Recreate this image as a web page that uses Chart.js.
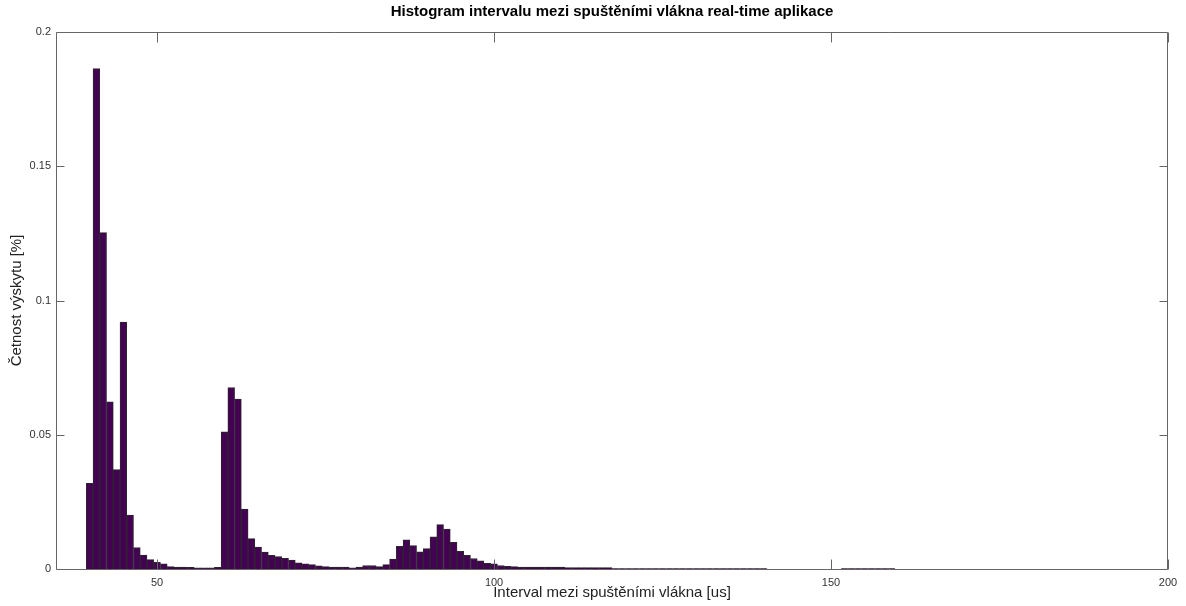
<!DOCTYPE html>
<html>
<head>
<meta charset="utf-8">
<script src="https://cdn.jsdelivr.net/npm/chart.js@4"></script>
<style>
  html, body { margin: 0; padding: 0; background: #fff; }
</style>
</head>
<body>
<canvas id="histChart" width="1186" height="606"></canvas>
<script>
// bin centres [us] and relative frequency
const binCenters = [
  40, 41, 42, 43, 44, 45, 46, 47, 48, 49,
  50, 51, 52, 53, 54, 55, 56, 57, 58, 59,
  60, 61, 62, 63, 64, 65, 66, 67, 68, 69,
  70, 71, 72, 73, 74, 75, 76, 77, 78, 79,
  80, 81, 82, 83, 84, 85, 86, 87, 88, 89,
  90, 91, 92, 93, 94, 95, 96, 97, 98, 99,
  100, 101, 102, 103, 104, 105, 106, 107, 108, 109,
  110, 111, 112, 113, 114, 115, 116, 117, 118, 119,
  120, 121, 122, 123, 124, 125, 126, 127, 128, 129,
  130, 131, 132, 133, 134, 135, 136, 137, 138, 139,
  140,
  152, 153, 154, 155, 156, 157, 158, 159
];
const frequency = [
  0.0319, 0.1864, 0.1253, 0.0623, 0.0370, 0.0920, 0.0201, 0.0080, 0.0052, 0.0035,
  0.0025, 0.0019, 0.0009, 0.0007, 0.0007, 0.0006, 0.0004, 0.0004, 0.0004, 0.0006,
  0.0511, 0.0676, 0.0633, 0.0223, 0.0113, 0.0082, 0.0063, 0.0051, 0.0046, 0.0040,
  0.0033, 0.0023, 0.0019, 0.0016, 0.0012, 0.0009, 0.0007, 0.0007, 0.0007, 0.0004,
  0.0007, 0.0013, 0.0013, 0.0009, 0.0016, 0.0037, 0.0084, 0.0109, 0.0087, 0.0064,
  0.0076, 0.0120, 0.0165, 0.0149, 0.0099, 0.0066, 0.0051, 0.0039, 0.0030, 0.0021,
  0.0019, 0.0013, 0.0010, 0.0009, 0.0007, 0.0007, 0.0007, 0.0007, 0.0007, 0.0007,
  0.0007, 0.0005, 0.0005, 0.0005, 0.0005, 0.0005, 0.0005, 0.0005, 0.0002, 0.0002,
  0.0002, 0.0002, 0.0002, 0.0002, 0.0002, 0.0002, 0.0002, 0.0002, 0.0002, 0.0002,
  0.0002, 0.0002, 0.0002, 0.0002, 0.0002, 0.0002, 0.0002, 0.0002, 0.0002, 0.0002,
  0.0002,
  0.0002, 0.0002, 0.0002, 0.0002, 0.0002, 0.0002, 0.0002, 0.0002
];
const xTicks = [50, 100, 150, 200];
const xTickLabels = ['50', '100', '150', '200'];
const yTicks = [0, 0.05, 0.1, 0.15, 0.2];
const yTickLabels = ['0', '0.05', '0.1', '0.15', '0.2'];
const chartTitle = 'Histogram intervalu mezi spuštěními vlákna real-time aplikace';

// octave-like box with inward tick marks on all four sides, title centred over the axes
const frameAndTicks = {
  id: 'frameAndTicks',
  afterDraw(chart) {
    const { ctx, chartArea: a, scales: { x, y } } = chart;
    const L = Math.round(a.left) + 0.5, R = Math.round(a.right) - 0.5;
    const T = Math.round(a.top) + 0.5, B = Math.round(a.bottom) + 0.5;
    ctx.save();
    ctx.strokeStyle = '#666';
    ctx.lineWidth = 1;
    ctx.beginPath();
    ctx.rect(L, T, R - L, B - T);
    xTicks.forEach(v => {
      const px = Math.round(x.getPixelForValue(v)) + 0.5;
      ctx.moveTo(px, B); ctx.lineTo(px, B - 10);
      ctx.moveTo(px, T); ctx.lineTo(px, T + 10);
    });
    yTicks.forEach(v => {
      const py = Math.round(y.getPixelForValue(v)) + 0.5;
      ctx.moveTo(L, py); ctx.lineTo(L + 8, py);
      ctx.moveTo(R, py); ctx.lineTo(R - 8, py);
    });
    ctx.stroke();

    ctx.fillStyle = '#000';
    ctx.font = 'bold 15px "Liberation Sans"';
    ctx.textAlign = 'center';
    ctx.textBaseline = 'middle';
    ctx.fillText(chartTitle, (a.left + a.right) / 2, 12);
    ctx.restore();
  }
};

new Chart(document.getElementById('histChart').getContext('2d'), {
  type: 'bar',
  data: {
    datasets: [{
      data: binCenters.map((c, i) => ({ x: c, y: frequency[i] })),
      backgroundColor: '#440154',
      borderColor: '#2a2a2a',
      borderWidth: 1,
      barPercentage: 1,
      categoryPercentage: 1
    }]
  },
  options: {
    responsive: false,
    animation: false,
    layout: { padding: { left: 0, right: 18, top: 32, bottom: 0 } },
    plugins: {
      legend: { display: false },
      tooltip: { enabled: false },
      title: { display: false }
    },
    scales: {
      x: {
        type: 'linear',
        min: 35,
        max: 200,
        offset: false,
        grid: { display: false, drawTicks: false, offset: false },
        border: { display: false },
        afterBuildTicks: s => { s.ticks = xTicks.map(v => ({ value: v })); },
        afterFit: s => { s.height = 37; },
        ticks: {
          padding: 7,
          color: '#333',
          font: { family: 'Liberation Sans', size: 11 },
          callback: v => xTickLabels[xTicks.indexOf(v)]
        },
        title: {
          display: true,
          text: 'Interval mezi spuštěními vlákna [us]',
          color: '#222',
          font: { family: 'Liberation Sans', size: 15 },
          padding: { top: 0, bottom: 4 }
        }
      },
      y: {
        min: 0,
        max: 0.2,
        grid: { display: false, drawTicks: false },
        border: { display: false },
        afterBuildTicks: s => { s.ticks = yTicks.map(v => ({ value: v })); },
        afterFit: s => { s.width = 56; },
        ticks: {
          padding: 5,
          color: '#333',
          font: { family: 'Liberation Sans', size: 11 },
          callback: v => yTickLabels[yTicks.indexOf(v)]
        },
        title: {
          display: true,
          text: 'Četnost výskytu [%]',
          color: '#222',
          font: { family: 'Liberation Sans', size: 15 },
          padding: { top: 8, bottom: 0 }
        }
      }
    }
  },
  plugins: [frameAndTicks]
});
</script>
</body>
</html>
